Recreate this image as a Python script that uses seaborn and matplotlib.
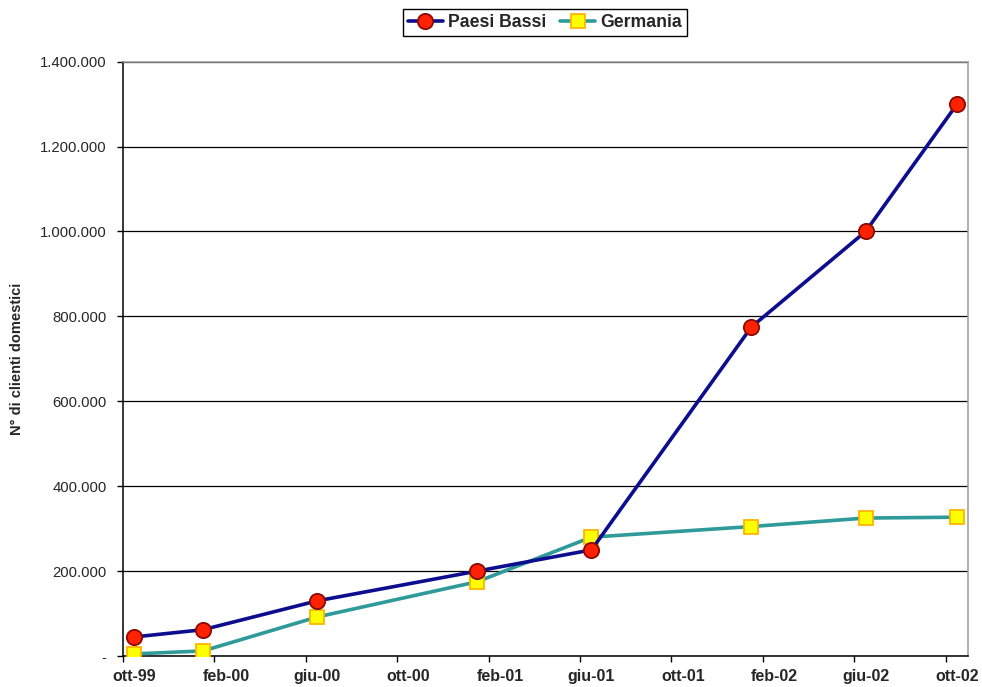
import matplotlib
matplotlib.use("Agg")
import matplotlib.pyplot as plt
import seaborn as sns
import pandas as pd
from matplotlib.ticker import FuncFormatter, FixedLocator

# Rilevazioni (mese-anno) e numero di clienti domestici
periodi = ["ott-99", "gen-00", "giu-00", "gen-01", "giu-01", "gen-02", "giu-02", "ott-02"]
paesi_bassi = [45000, 62000, 130000, 200000, 250000, 775000, 1000000, 1300000]
germania = [5000, 12000, 92000, 175000, 280000, 305000, 325000, 327000]

etichette_x = ["ott-99", "feb-00", "giu-00", "ott-00", "feb-01",
               "giu-01", "ott-01", "feb-02", "giu-02", "ott-02"]
tick_y = [0, 200000, 400000, 600000, 800000, 1000000, 1200000, 1400000]

MESI = {"gen": 1, "feb": 2, "mar": 3, "apr": 4, "mag": 5, "giu": 6,
        "lug": 7, "ago": 8, "set": 9, "ott": 10, "nov": 11, "dic": 12}


def mese_indice(etichetta, origine="ott-99"):
    def assoluto(s):
        m, a = s.split("-")
        anno = int(a)
        anno += 1900 if anno >= 50 else 2000
        return anno * 12 + MESI[m]
    return assoluto(etichetta) - assoluto(origine)


df = pd.DataFrame({
    "mese": [mese_indice(p) for p in periodi],
    "Paesi Bassi": paesi_bassi,
    "Germania": germania,
})

sns.set_style("white")
plt.rcParams["font.family"] = ["Liberation Sans", "DejaVu Sans"]

fig = plt.figure(figsize=(9.82, 6.87), dpi=100)
ax = fig.add_axes([0.1253, 0.0451, 0.8609, 0.8651])

sns.lineplot(data=df, x="mese", y="Paesi Bassi", ax=ax, color="#0d0d8f",
             linewidth=2.6, marker="o", markersize=11,
             markerfacecolor="#ff2200", markeredgecolor="#8b0a00",
             markeredgewidth=1.3, label="Paesi Bassi", zorder=4)
sns.lineplot(data=df, x="mese", y="Germania", ax=ax, color="#2e9a9a",
             linewidth=2.6, marker="s", markersize=9.5,
             markerfacecolor="#ffff00", markeredgecolor="#ffb400",
             markeredgewidth=1.3, label="Germania", zorder=3)

# Asse temporale: un intervallo per mese, etichette ogni 4 mesi
n_mesi = mese_indice(etichette_x[-1]) + 1
ax.set_xlim(-0.5, n_mesi - 0.5)
ax.xaxis.set_major_locator(FixedLocator([mese_indice(e) for e in etichette_x]))
ax.set_xticklabels(etichette_x, fontsize=11.5, fontweight="bold")
ax.xaxis.set_minor_locator(FixedLocator([mese_indice(e) - 0.5 for e in etichette_x]))
ax.tick_params(axis="x", which="major", length=0, pad=9)
ax.tick_params(axis="x", which="minor", length=4.5, width=1, color="black",
               direction="out", bottom=True)

ax.set_ylim(0, tick_y[-1])
ax.yaxis.set_major_locator(FixedLocator(tick_y))


def formato_it(v, pos):
    if v == 0:
        return "-"
    return f"{int(v):,}".replace(",", ".")


ax.yaxis.set_major_formatter(FuncFormatter(formato_it))
ax.tick_params(axis="y", which="major", length=4, width=1, color="black",
               direction="out", left=True, labelsize=10.7, pad=8)

ax.grid(axis="y", color="black", linewidth=0.9)
ax.grid(axis="x", visible=False)
ax.set_axisbelow(True)

for lato in ("left", "bottom"):
    ax.spines[lato].set_color("black")
    ax.spines[lato].set_linewidth(1.1)
for lato in ("top", "right"):
    ax.spines[lato].set_color("#9a9a9a")
    ax.spines[lato].set_linewidth(1.1)

ax.set_xlabel("")
ax.set_ylabel("N° di clienti domestici", fontsize=10.5, fontweight="bold")
ax.yaxis.set_label_coords(-0.117, 0.5)

leg = ax.legend(loc="upper center", bbox_to_anchor=(0.555, 0.987),
                bbox_transform=fig.transFigure, ncol=2, frameon=True,
                fancybox=False, edgecolor="black", framealpha=1,
                prop={"weight": "bold", "size": 12.7},
                handlelength=2.0, handletextpad=0.3, columnspacing=0.75,
                borderpad=0.28, borderaxespad=0)
leg.get_frame().set_linewidth(1.0)

fig.savefig("out.png", dpi=100)
